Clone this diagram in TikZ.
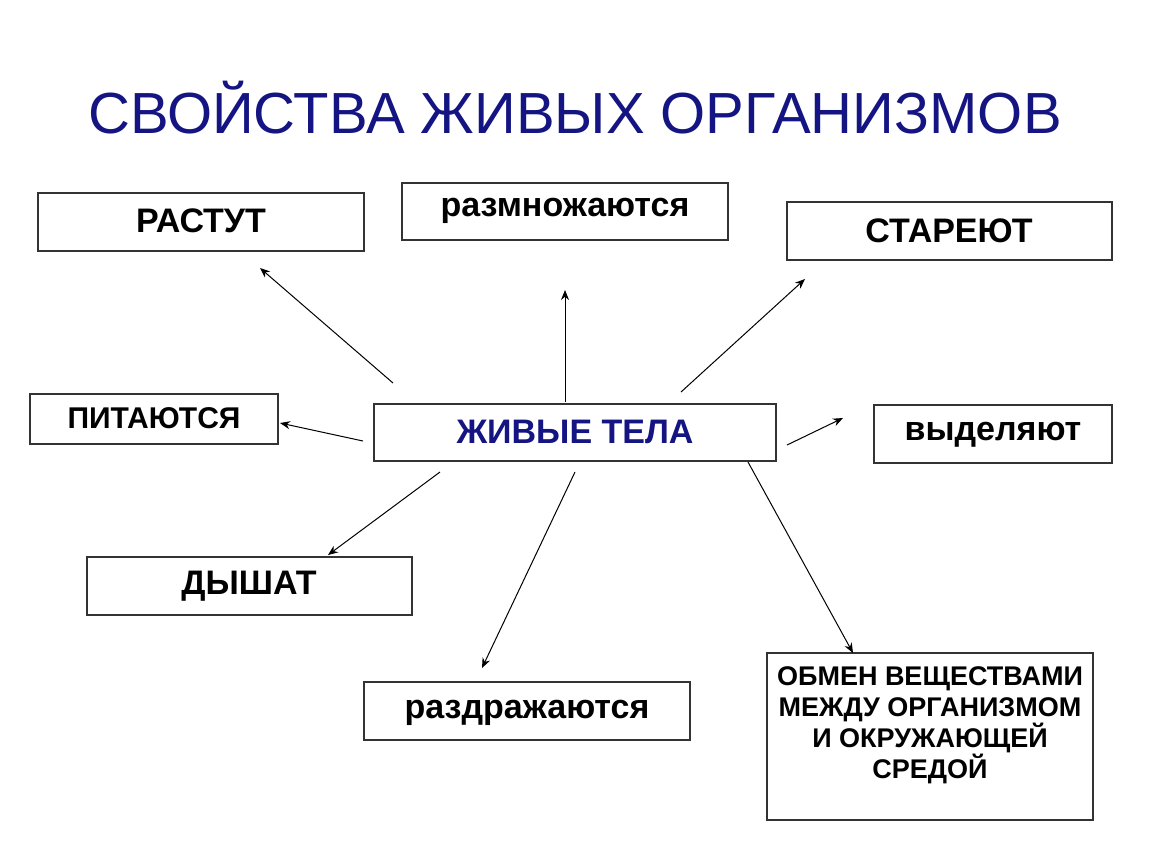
\documentclass[tikz,border=0pt]{standalone}
\usepackage{fontspec}
\setmainfont{Liberation Sans}
\usetikzlibrary{arrows.meta}
\definecolor{titleblue}{RGB}{20,20,130}
\begin{document}
\begin{tikzpicture}[x=0.5pt,y=-0.5pt]

\tikzset{propbox/.style={draw=black!80,line width=0.6pt,inner sep=0},
  proptext/.style={font=\bfseries\fontsize{17}{20}\selectfont},
  proparc/.style={-{Stealth[length=5pt,width=4pt]},line width=0.5pt}}%

\useasboundingbox (0,0) rectangle (1150,864);

\node[font=\fontsize{29}{32}\selectfont,text=titleblue] (title) at (575,108) {СВОЙСТВА ЖИВЫХ ОРГАНИЗМОВ};

\draw[propbox] (38,193) rectangle (364,251);
\node[proptext] (grow) at (201,221) {РАСТУТ};
\draw[propbox] (402,183) rectangle (728,240);
\node[proptext] (breed) at (565,211) {размножаются};
\draw[propbox] (787,202) rectangle (1112,260);
\node[proptext] (age) at (949,231) {СТАРЕЮТ};
\draw[propbox] (30,394) rectangle (278,444);
\node[proptext,font=\bfseries\fontsize{15}{18}\selectfont] (eat) at (154,418) {ПИТАЮТСЯ};
\draw[propbox] (374,404) rectangle (776,461);
\node[proptext,text=titleblue] (live) at (575,432) {ЖИВЫЕ ТЕЛА};
\draw[propbox] (874,405) rectangle (1112,463);
\node[proptext] (excr) at (993,435) {выделяют};
\draw[propbox] (87,557) rectangle (412,615);
\node[proptext] (breath) at (249,586) {ДЫШАТ};
\draw[propbox] (364,682) rectangle (690,740);
\node[proptext] (irrit) at (527,713) {раздражаются};
\draw[propbox] (767,653) rectangle (1093,820);
\node[align=center,font=\bfseries\fontsize{13.5}{15.5}\selectfont,anchor=north] (meta) at (930,660)
  {ОБМЕН ВЕЩЕСТВАМИ\\МЕЖДУ ОРГАНИЗМОМ\\И ОКРУЖАЮЩЕЙ\\СРЕДОЙ};

% arrow ends
\coordinate (g0) at (393,383); \coordinate (g1) at (260,268);
\coordinate (b0) at (565,402); \coordinate (b1) at (565,290);
\coordinate (a0) at (681,392); \coordinate (a1) at (805,279);
\coordinate (e0) at (363,441); \coordinate (e1) at (280,423);
\coordinate (x0) at (787,445); \coordinate (x1) at (843,418);
\coordinate (d0) at (440,472); \coordinate (d1) at (328,555);
\coordinate (r0) at (575,472); \coordinate (r1) at (482,668);
\coordinate (m0) at (748,462); \coordinate (m1) at (853,653);

\foreach \s in {g,b,a,e,x,d,r,m}
  \draw[proparc] (\s0) -- (\s1);

\end{tikzpicture}
\end{document}
